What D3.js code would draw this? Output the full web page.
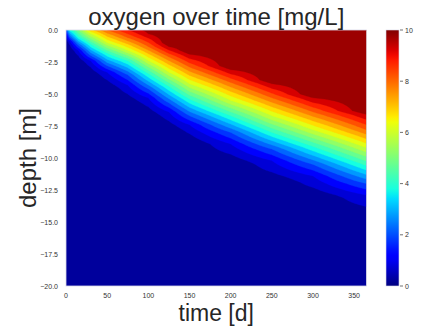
<!DOCTYPE html>
<html>
<head>
<meta charset="utf-8">
<script src="https://cdn.jsdelivr.net/npm/d3@7"></script>
<style>
    body { margin: 0; background: #fff; }
    text { font-family: "Liberation Sans", Arial, sans-serif; }
</style>
</head>
<body>
<svg id="chart" width="427" height="329"></svg>
<script>

// sampled days (columns of the grid)
var times = [0, 5, 15, 30, 50, 75, 100, 125, 150, 200, 250, 300, 365];

// oxygen at the surface [mg/L] for each day
var surfaceO2 = [2.0, 3.8, 5.0, 6.8, 8.0, 9.0, 9.7, 10, 10, 10, 10, 10, 10];

// depth [m] where oxygen drops to a level, per day (null = level not reached)
var depth10 = [null, null, null, null, null, null, null, -1.0, -1.6, -2.8, -3.9, -5.0, -6.3];
var depth95 = [null, null, null, null, null, null, -0.3, -1.3, -1.9, -3.1, -4.2, -5.3, -6.6];
var depth8  = [null, null, null, null, null, -0.6, -1.3, -2.1, -2.9, -4.1, -5.3, -6.4, -7.8];
var depth6  = [null, null, null, -0.3, -1.0, -1.6, -2.4, -3.3, -4.2, -5.5, -6.7, -7.8, -9.2];
var depth4  = [null, null, -0.5, -1.1, -1.8, -2.4, -3.4, -4.4, -5.4, -6.7, -8.0, -9.1, -10.6];
var depth2  = [null, -0.6, -1.2, -2.0, -2.8, -3.5, -4.6, -5.7, -6.7, -8.0, -9.3, -10.5, -12.0];
var depth1  = [-0.35, -0.9, -1.6, -2.4, -3.3, -4.3, -5.3, -6.4, -7.4, -8.9, -10.2, -11.4, -12.9];
var depth05 = [-0.6, -1.2, -2.0, -2.9, -3.9, -5.0, -6.0, -7.1, -8.1, -9.7, -11.1, -12.3, -13.8];
var depth0  = [-1.0, -1.7, -2.6, -3.6, -4.6, -5.8, -6.8, -7.9, -8.9, -10.5, -11.9, -13.1, -14.6];
var isoLevels = [10, 9.5, 8, 6, 4, 2, 1, 0.5, 0];
var isoDepths = [depth10, depth95, depth8, depth6, depth4, depth2, depth1, depth05, depth0];

// tick labels
var timeTicks  = [0, 50, 100, 150, 200, 250, 300, 350];
var depthTicks = [0, -2.5, -5, -7.5, -10, -12.5, -15, -17.5, -20];
var cbarTicks  = [0, 2, 4, 6, 8, 10];
var bandLevels = d3.range(0, 10, 0.5);   // contourf levels (0 .. 9.5, step 0.5)

var plot = {left: 66, right: 366.5, top: 30, bottom: 286};
var cbar = {left: 386, width: 13};

var svg = d3.select('#chart');

var x = d3.scaleLinear().domain([0, 365]).range([plot.left, plot.right]);
var y = d3.scaleLinear().domain([0, -20]).range([plot.top, plot.bottom]);

// matplotlib "jet"
var jetR = d3.scaleLinear().domain([0, 0.35, 0.66, 0.89, 1]).range([0, 0, 1, 1, 0.5]).clamp(true);
var jetG = d3.scaleLinear().domain([0, 0.125, 0.375, 0.64, 0.91, 1]).range([0, 0, 1, 1, 0, 0]).clamp(true);
var jetB = d3.scaleLinear().domain([0, 0.11, 0.34, 0.65, 1]).range([0.5, 1, 1, 0, 0]).clamp(true);
function jet(v){
    return d3.rgb(jetR(v) * 255, jetG(v) * 255, jetB(v) * 255).formatHex();
}

// build the value grid: one column per sampled day, rows every 0.05 m
var rowDepths = d3.range(0, 401).map(function(j){ return -j * 0.05; });
var nx = times.length, ny = rowDepths.length;
var grid = new Array(nx * ny);

times.forEach(function(t, i){
    var dom = [0], rng = [surfaceO2[i]];
    isoLevels.forEach(function(l, k){
        var d = isoDepths[k][i];
        if (d !== null) { dom.push(d); rng.push(l); }
    });
    var profile = d3.scaleLinear().domain(dom).range(rng).clamp(true);
    rowDepths.forEach(function(z, j){
        grid[j * nx + i] = profile(z);
    });
});

// grid coords -> data coords (value i sits at coordinate i + 0.5)
var colToTime = d3.scaleLinear()
    .domain([0].concat(d3.range(nx).map(function(i){ return i + 0.5; }), [nx]))
    .range([times[0]].concat(times, [times[nx - 1]]));
var rowToDepth = d3.scaleLinear()
    .domain([0].concat(d3.range(ny).map(function(j){ return j + 0.5; }), [ny]))
    .range([rowDepths[0]].concat(rowDepths, [rowDepths[ny - 1]]));

var proj = d3.geoTransform({
    point: function(px, py){
        this.stream.point(x(colToTime(px)), y(rowToDepth(py)));
    }
});
var path = d3.geoPath(proj);

var contours = d3.contours().size([nx, ny]).smooth(true).thresholds(bandLevels)(grid);

svg.append('clipPath').attr('id', 'clip')
    .append('rect')
    .attr('x', plot.left).attr('y', plot.top)
    .attr('width', plot.right - plot.left).attr('height', plot.bottom - plot.top);

svg.append('g').attr('clip-path', 'url(#clip)')
    .selectAll('path')
    .data(contours)
    .enter().append('path')
    .attr('d', path)
    .attr('fill', function(d){ return jet((d.value + 0.25) / 10); })
    .attr('stroke', function(d){ return jet((d.value + 0.25) / 10); })
    .attr('stroke-width', 0.3);

svg.append('rect')
    .attr('x', plot.left).attr('y', plot.top)
    .attr('width', plot.right - plot.left).attr('height', plot.bottom - plot.top)
    .attr('fill', 'none').attr('stroke', '#d8d8e8').attr('stroke-width', 0.8);

// tick labels (no tick marks, seaborn white style)
svg.append('g').selectAll('text')
    .data(timeTicks)
    .enter().append('text')
    .attr('x', function(d){ return x(d); })
    .attr('y', 297.5)
    .attr('text-anchor', 'middle')
    .style('font-size', '7px').style('fill', '#333')
    .text(function(d){ return d; });

var fmt1 = d3.format('.1f');
svg.append('g').selectAll('text')
    .data(depthTicks)
    .enter().append('text')
    .attr('x', 58)
    .attr('y', function(d){ return y(d) + 2.5; })
    .attr('text-anchor', 'end')
    .style('font-size', '7px').style('fill', '#333')
    .text(function(d){ return fmt1(d); });

// titles
svg.append('text')
    .attr('x', (plot.left + plot.right) / 2).attr('y', 25)
    .attr('text-anchor', 'middle')
    .style('font-size', '24px').style('fill', '#262626')
    .text('oxygen over time [mg/L]');

svg.append('text')
    .attr('x', (plot.left + plot.right) / 2).attr('y', 320.5)
    .attr('text-anchor', 'middle')
    .style('font-size', '23px').style('fill', '#262626')
    .text('time [d]');

svg.append('text')
    .attr('transform', 'translate(36,' + (plot.top + plot.bottom) / 2 + ') rotate(-90)')
    .attr('text-anchor', 'middle')
    .style('font-size', '24px').style('fill', '#262626')
    .text('depth [m]');

// colorbar
var cScale = d3.scaleLinear().domain([0, 10]).range([plot.bottom, plot.top]);
var grad = svg.append('defs').append('linearGradient')
    .attr('id', 'jetgrad')
    .attr('x1', 0).attr('y1', 1).attr('x2', 0).attr('y2', 0);
grad.selectAll('stop')
    .data(d3.range(0, 1.0001, 0.02))
    .enter().append('stop')
    .attr('offset', function(d){ return d; })
    .attr('stop-color', function(d){ return jet(d); });

svg.append('rect')
    .attr('x', cbar.left).attr('y', plot.top)
    .attr('width', cbar.width).attr('height', plot.bottom - plot.top)
    .attr('fill', 'url(#jetgrad)')
    .attr('stroke', '#d8d8e8').attr('stroke-width', 0.6);

var cTicks = svg.append('g').selectAll('g')
    .data(cbarTicks)
    .enter().append('g')
    .attr('transform', function(d){ return 'translate(' + (cbar.left + cbar.width) + ',' + cScale(d) + ')'; });
cTicks.append('line')
    .attr('x1', 1).attr('x2', 4)
    .attr('stroke', '#333').attr('stroke-width', 0.7);
cTicks.append('text')
    .attr('x', 6).attr('y', 2.5)
    .style('font-size', '7px').style('fill', '#333')
    .text(function(d){ return d; });

</script>
</body>
</html>
